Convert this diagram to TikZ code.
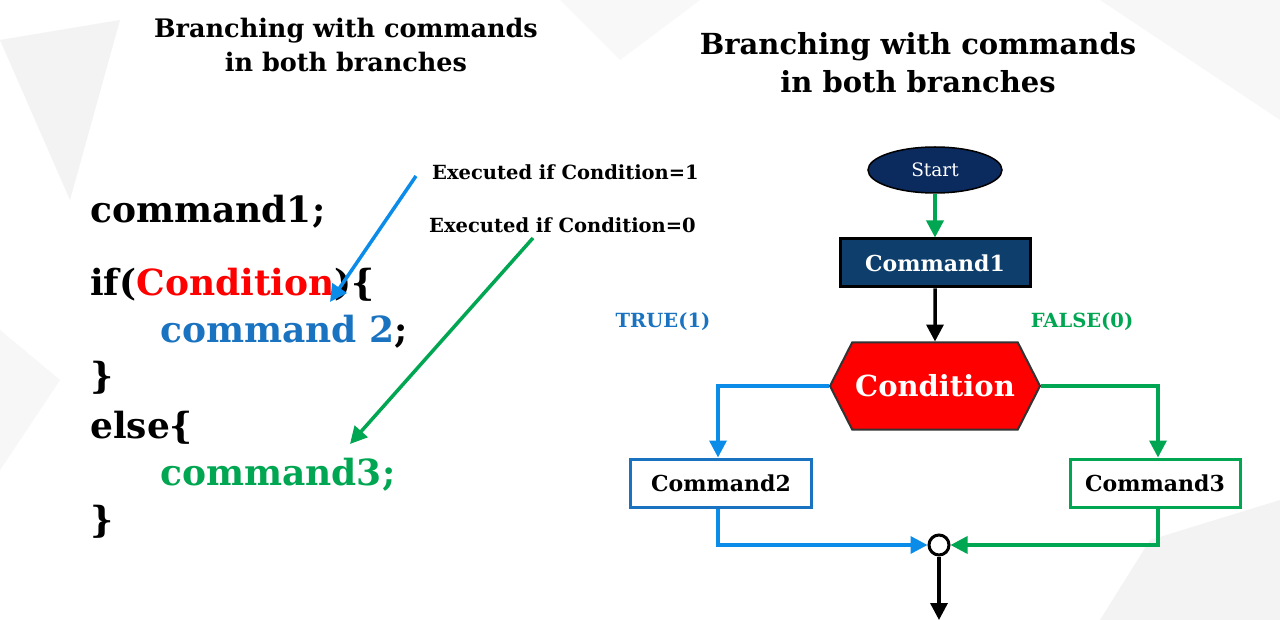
\documentclass[tikz,border=0pt]{standalone}
\usepackage{fontspec}
\setmainfont{DejaVu Serif}
\usetikzlibrary{shapes.geometric,shapes.symbols,arrows.meta}
\definecolor{cblue}{HTML}{1A73C0}
\definecolor{ablue}{HTML}{0C8CE9}
\definecolor{cgreen}{HTML}{00A651}
\definecolor{navy}{HTML}{0B2A5E}
\definecolor{cnavy}{HTML}{0E3F6C}
\definecolor{cred}{HTML}{FF0000}
\definecolor{bg}{HTML}{F3F3F3}
\begin{document}
\begin{tikzpicture}[x=1pt,y=-1pt,
  code/.style={anchor=west,inner sep=0,font=\fontsize{36}{36}\selectfont\bfseries},
  ann/.style={anchor=west,inner sep=0,font=\fontsize{19.5}{19.5}\selectfont\bfseries},
  ttl/.style={align=center,inner sep=0},
  arr/.style={line width=3.5pt,-{Triangle[length=17pt,width=17pt]}},
  box/.style={draw,line width=3pt,minimum width=180pt,minimum height=48pt,inner sep=0,font=\fontsize{22}{22}\selectfont\bfseries}]
\useasboundingbox (0,0) rectangle (1280,620);
\fill[white] (0,0) rectangle (1280,620);
\fill[bg] (0,40) -- (120,20) -- (70,200) -- cycle;
\fill[bg!70] (0,330) -- (60,380) -- (0,470) -- cycle;
\fill[bg] (1150,540) -- (1280,500) -- (1280,620) -- (1100,620) -- cycle;
\fill[bg!70] (1100,0) -- (1280,0) -- (1280,120) -- cycle;
\fill[bg!60] (560,0) -- (700,0) -- (620,60) -- cycle;
% titles
\node[ttl,font=\fontsize{25.5}{34}\selectfont\bfseries] (t1) at (346,45) {Branching with commands\\in both branches};
\node[ttl,font=\fontsize{29}{38}\selectfont\bfseries] (t2) at (918,63) {Branching with commands\\in both branches};
% code
\node[code] (c1) at (90,212) {command1;};
\node[code] (c2) at (90,285) {if(\textcolor{cred}{Condition})\{};
\node[code] (c3) at (160,332) {\textcolor{cblue}{command 2};};
\node[code] (c4) at (90,378) {\}};
\node[code] (c5) at (90,428) {else\{};
\node[code] (c6) at (160,475) {\textcolor{cgreen}{command3;}};
\node[code] (c7) at (90,522) {\}};
\node[ann] (a1) at (432,172) {Executed if Condition=1};
\node[ann] (a2) at (429,225) {Executed if Condition=0};
\coordinate (b1) at (416,176); \coordinate (b2) at (330,302);
\coordinate (g1) at (533,238); \coordinate (g2) at (350,444);
\draw[arr,ablue] (b1) -- (b2);
\draw[arr,cgreen] (g1) -- (g2);
% flowchart
\node[ellipse,draw=black,line width=1.5pt,fill=navy,minimum width=134pt,minimum height=46pt,inner sep=0,text=white,font=\fontsize{18.5}{18.5}\selectfont] (st) at (935,170) {Start};
\node[box,fill=cnavy,text=white,minimum width=190pt] (cm1) at (935,263) {Command1};
\node[signal,signal to=west and east,signal pointer angle=126,draw=black!80,line width=2pt,fill=cred,text=white,minimum width=210pt,minimum height=87pt,inner sep=0,font=\fontsize{29}{29}\selectfont\bfseries] (cond) at (935,386) {Condition};
\node[box,draw=cblue,fill=white,minimum width=181pt] (cm2) at (721,483) {Command2};
\node[box,draw=cgreen,fill=white,minimum width=170pt] (cm3) at (1155,483) {Command3};
\node[circle,draw,line width=3pt,minimum size=20pt,inner sep=0] (j) at (939,545) {};
\coordinate (e) at (939,620);
\node[font=\fontsize{19.5}{19.5}\selectfont\bfseries,text=cblue] (tr) at (663,322) {TRUE(1)};
\node[font=\fontsize{19.5}{19.5}\selectfont\bfseries,text=cgreen] (fa) at (1082,322) {FALSE(0)};
\draw[arr,cgreen] (st) -- (cm1);
\draw[arr,black] (cm1) -- (cond);
\draw[arr,ablue] (cond.west) -| (cm2.north -| 718,0);
\draw[arr,cgreen] (cond.east) -| (cm3.north -| 1158,0);
\draw[arr,ablue] (cm2.south -| 718,0) |- (j.west);
\draw[arr,cgreen] (cm3.south -| 1158,0) |- (j.east);
\draw[arr,black] (j) -- (e);
\end{tikzpicture}
\end{document}
